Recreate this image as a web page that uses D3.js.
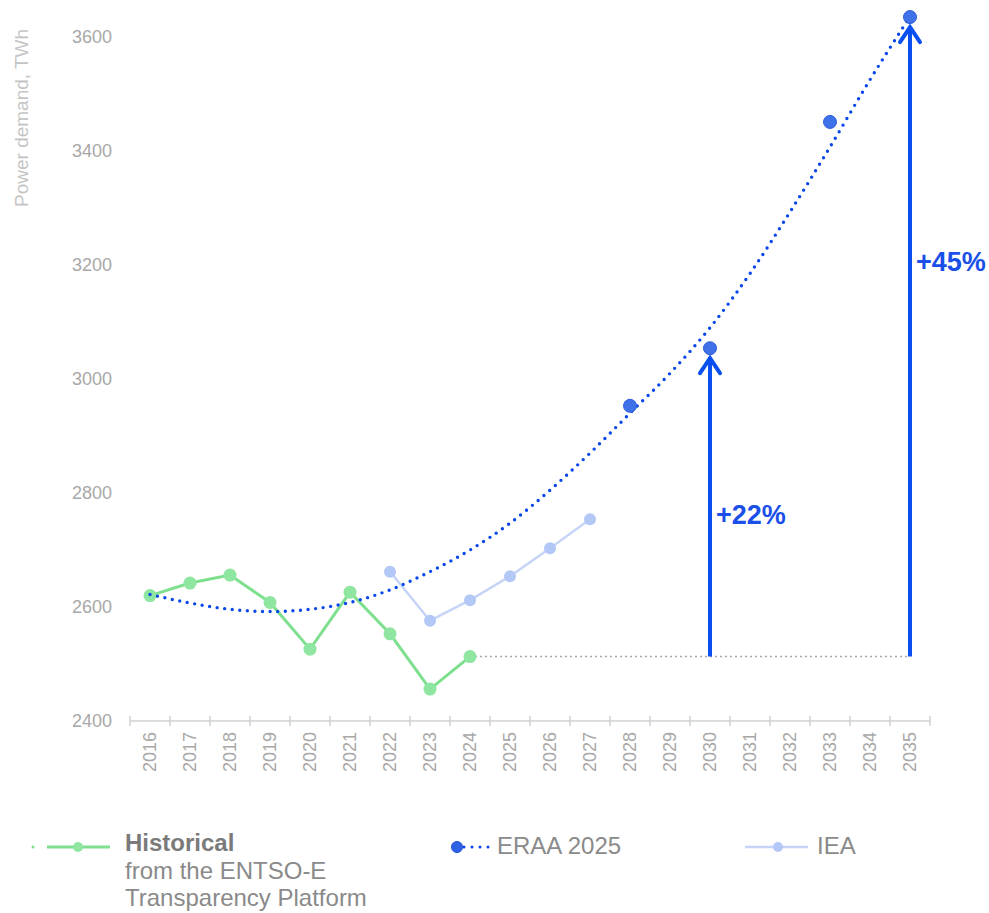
<!DOCTYPE html>
<html>
<head>
<meta charset="utf-8">
<script src="https://cdn.jsdelivr.net/npm/d3@7"></script>
<style>
  body { margin: 0; background: #fff; }
  svg { font-family: "Liberation Sans", Arial, sans-serif; }
</style>
</head>
<body>
<div id="chart"></div>
<script>
// years on the x axis
const years = d3.range(2016, 2036);
const yTicks = [2400, 2600, 2800, 3000, 3200, 3400, 3600];

// historical demand (ENTSO-E)
const historicalYears = [2016, 2017, 2018, 2019, 2020, 2021, 2022, 2023, 2024];
const historicalValues = [2620, 2642, 2656, 2608, 2526, 2626, 2553, 2456, 2513];

// IEA outlook
const ieaYears = [2022, 2023, 2024, 2025, 2026, 2027];
const ieaValues = [2662, 2576, 2612, 2654, 2703, 2754];

// ERAA 2025 scenario points
const eraaYears = [2028, 2030, 2033, 2035];
const eraaValues = [2953, 3054, 3451, 3635];

// ERAA trend line
const trendYears = years;
const trendValues = [2622, 2607, 2596, 2592, 2596, 2608, 2630, 2662, 2700, 2747,
                     2805, 2870, 2940, 3010, 3090, 3185, 3293, 3407, 3525, 3636];

// growth arrows vs 2024 level
const baseYear = 2024;
const baseValue = 2513;
const arrowYears = [2030, 2035];
const arrowValues = [3054, 3635];
const arrowLabels = ['+22%', '+45%'];
const arrowLabelAt = [2762, 3206];

const width = 989, height = 913;
const axisY = 721;

const svg = d3.select('#chart')
  .append('svg')
  .attr('width', width)
  .attr('height', height);

const x = d3.scaleBand().domain(years).range([130, 930]).padding(0);
const xc = d => x(d) + x.bandwidth() / 2;
const y = d3.scaleLinear().domain([2400, 3600]).range([axisY, 37]);

// y axis labels
const yAxis = svg.append('g')
  .attr('transform', 'translate(112,0)')
  .call(d3.axisLeft(y).tickValues(yTicks).tickSize(0).tickPadding(0).tickFormat(d3.format('d')));
yAxis.select('.domain').remove();
yAxis.selectAll('text')
  .attr('fill', '#a8a8a8')
  .style('font-size', '18px')
  .style('font-family', '"Liberation Sans", Arial, sans-serif');

svg.append('text')
  .attr('transform', 'translate(28,207) rotate(-90)')
  .attr('text-anchor', 'start')
  .attr('fill', '#c4c4c4')
  .style('font-size', '19px')
  .text('Power demand, TWh');

// x axis
const xAxis = svg.append('g')
  .attr('transform', 'translate(0,' + axisY + ')')
  .call(d3.axisBottom(x).tickSize(0).tickPadding(11));
xAxis.select('.domain').remove();
xAxis.selectAll('text')
  .attr('transform', 'rotate(-90)')
  .attr('x', -11)
  .attr('y', 0)
  .attr('dy', '0.35em')
  .style('text-anchor', 'end')
  .attr('fill', '#a8a8a8')
  .style('font-size', '18px')
  .style('font-family', '"Liberation Sans", Arial, sans-serif');

xAxis.append('line')
  .attr('x1', x.range()[0]).attr('x2', x.range()[1])
  .attr('stroke', '#d0d0d0').attr('stroke-width', 1.5);
xAxis.selectAll('.edge')
  .data(years.map(d => x(d)).concat([x.range()[1]]))
  .join('line')
  .attr('class', 'edge')
  .attr('x1', d => d).attr('x2', d => d)
  .attr('y1', -5).attr('y2', 5)
  .attr('stroke', '#d0d0d0').attr('stroke-width', 1.5);

// 2024 reference line
svg.append('line')
  .attr('x1', xc(baseYear)).attr('x2', xc(2035))
  .attr('y1', y(baseValue)).attr('y2', y(baseValue))
  .attr('stroke', '#a8a8a8').attr('stroke-width', 1.5)
  .attr('stroke-dasharray', '2 3');

const line = d3.line().x(d => xc(d[0])).y(d => y(d[1]));

// IEA
svg.append('path')
  .attr('d', line(d3.zip(ieaYears, ieaValues)))
  .attr('fill', 'none').attr('stroke', '#c6d4f7').attr('stroke-width', 2.5);
svg.selectAll('.iea')
  .data(d3.zip(ieaYears, ieaValues))
  .join('circle')
  .attr('class', 'iea')
  .attr('cx', d => xc(d[0])).attr('cy', d => y(d[1]))
  .attr('r', 6).attr('fill', '#b3c8f7');

// historical
svg.append('path')
  .attr('d', line(d3.zip(historicalYears, historicalValues)))
  .attr('fill', 'none').attr('stroke', '#7ee08e').attr('stroke-width', 3);
svg.selectAll('.hist')
  .data(d3.zip(historicalYears, historicalValues))
  .join('circle')
  .attr('class', 'hist')
  .attr('cx', d => xc(d[0])).attr('cy', d => y(d[1]))
  .attr('r', 6.5).attr('fill', '#8fe6a0');

// ERAA trend
svg.append('path')
  .attr('d', line.curve(d3.curveMonotoneX)(d3.zip(trendYears, trendValues)))
  .attr('fill', 'none').attr('stroke', '#0a47e8').attr('stroke-width', 3.4)
  .attr('stroke-linecap', 'round')
  .attr('stroke-dasharray', '0 7.6');
line.curve(d3.curveLinear);

svg.selectAll('.eraa')
  .data(d3.zip(eraaYears, eraaValues))
  .join('circle')
  .attr('class', 'eraa')
  .attr('cx', d => xc(d[0])).attr('cy', d => y(d[1]))
  .attr('r', 6.5).attr('fill', '#3f71e8').attr('stroke', '#2c5ddc').attr('stroke-width', 1);

// arrows
const arrowColor = '#0a4ff0';
arrowYears.forEach((yr, i) => {
  const ax = xc(yr);
  const tip = y(arrowValues[i]) + 10;
  svg.append('line')
    .attr('x1', ax).attr('x2', ax)
    .attr('y1', y(baseValue)).attr('y2', tip + 1)
    .attr('stroke', arrowColor).attr('stroke-width', 4);
  svg.append('path')
    .attr('d', `M${ax - 10},${tip + 15}L${ax},${tip}L${ax + 10},${tip + 15}`)
    .attr('fill', 'none').attr('stroke', arrowColor).attr('stroke-width', 4)
    .attr('stroke-linejoin', 'miter').attr('stroke-linecap', 'round');
  svg.append('text')
    .attr('x', ax + 6).attr('y', y(arrowLabelAt[i]))
    .attr('dy', '0.35em')
    .attr('fill', '#1a50e8')
    .style('font-size', '27px').style('font-weight', 'bold')
    .text(arrowLabels[i]);
});

// legend
const legend = svg.append('g');
const ly = 847;
legend.append('circle').attr('cx', 33).attr('cy', ly).attr('r', 1.5).attr('fill', '#7ee08e');
legend.append('line').attr('x1', 47).attr('x2', 110).attr('y1', ly).attr('y2', ly)
  .attr('stroke', '#7ee08e').attr('stroke-width', 3);
legend.append('circle').attr('cx', 78).attr('cy', ly).attr('r', 5).attr('fill', '#8fe6a0');
legend.append('text').attr('x', 125).attr('y', 851)
  .attr('fill', '#7a7a7a').style('font-size', '24px').style('font-weight', 'bold')
  .text('Historical');
legend.append('text').attr('x', 125).attr('y', 879)
  .attr('fill', '#8a8a8a').style('font-size', '24px')
  .text('from the ENTSO-E');
legend.append('text').attr('x', 125).attr('y', 906)
  .attr('fill', '#8a8a8a').style('font-size', '24px')
  .text('Transparency Platform');

legend.append('line').attr('x1', 464).attr('x2', 490).attr('y1', ly).attr('y2', ly)
  .attr('stroke', '#0a47e8').attr('stroke-width', 3)
  .attr('stroke-linecap', 'round').attr('stroke-dasharray', '0 8');
legend.append('circle').attr('cx', 457).attr('cy', ly).attr('r', 5.5)
  .attr('fill', '#2f63e4').attr('stroke', '#1f50d8').attr('stroke-width', 1);
legend.append('text').attr('x', 497).attr('y', 854)
  .attr('fill', '#8a8a8a').style('font-size', '24px')
  .text('ERAA 2025');

legend.append('line').attr('x1', 745).attr('x2', 808).attr('y1', ly).attr('y2', ly)
  .attr('stroke', '#c6d4f7').attr('stroke-width', 2.5);
legend.append('circle').attr('cx', 778).attr('cy', ly).attr('r', 5).attr('fill', '#b3c8f7');
legend.append('text').attr('x', 817).attr('y', 854)
  .attr('fill', '#8a8a8a').style('font-size', '24px')
  .text('IEA');
</script>
</body>
</html>
